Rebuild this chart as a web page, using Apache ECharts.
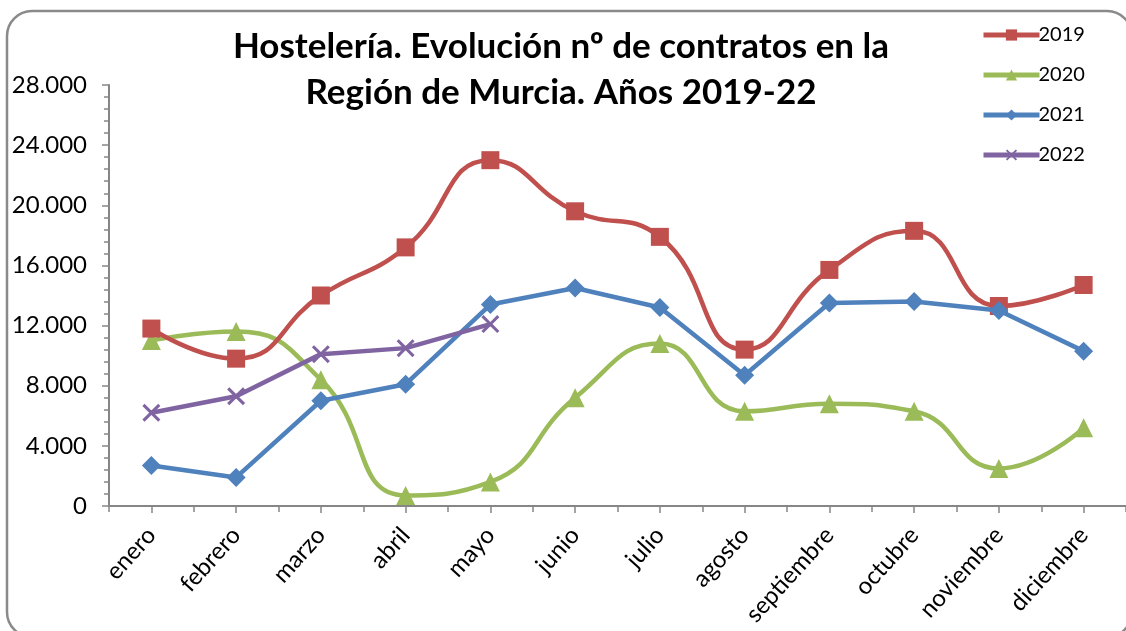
<!DOCTYPE html>
<html>
<head>
<meta charset="utf-8">
<script src="https://cdn.jsdelivr.net/npm/echarts@6/dist/echarts.min.js"></script>
<style>html,body{margin:0;padding:0;background:#fff;}#c{width:1126px;height:631px;}</style>
</head>
<body>
<div id="c"></div>
<script>
var months = ['enero','febrero','marzo','abril','mayo','junio','julio','agosto','septiembre','octubre','noviembre','diciembre'];
var y2019 = [11800, 9800, 14000, 17200, 23000, 19600, 17900, 10400, 15700, 18300, 13300, 14700];
var y2020 = [11000, 11600, 8400, 700, 1600, 7200, 10800, 6300, 6800, 6300, 2500, 5200];
var y2021 = [2700, 1900, 7000, 8100, 13400, 14500, 13200, 8700, 13500, 13600, 13000, 10300];
var y2022 = [6200, 7300, 10100, 10500, 12100];
var seriesNames = ['2019','2020','2021','2022'];
var yTicks = {min: 0, max: 28000, interval: 4000};

var FONT = 'Lato, "Open Sans", sans-serif';
var crossPath = 'path://M0,1.2 L1.2,0 L5,3.8 L8.8,0 L10,1.2 L6.2,5 L10,8.8 L8.8,10 L5,6.2 L1.2,10 L0,8.8 L3.8,5 Z';
var chart = echarts.init(document.getElementById('c'), null, {renderer: 'canvas'});
function fmt(v){ return String(v).replace(/\B(?=(\d{3})+(?!\d))/g, '.'); }
var axisGray = '#868686';
chart.setOption({
  animation: false,
  backgroundColor: '#fff',
  graphic: [{
    type: 'rect', shape: {x: 7, y: 11, width: 1125, height: 626, r: 25},
    style: {fill: 'none', stroke: '#8a8a8a', lineWidth: 2.5}, z: 0
  }],
  title: {
    text: 'Hostelería. Evolución nº de contratos en la\nRegión de Murcia. Años 2019-22',
    left: 556, top: 19, textAlign: 'center',
    textStyle: {fontFamily: FONT, fontWeight: 'bold', fontSize: 35, lineHeight: 46, color: '#000'}
  },
  legend: {
    orient: 'vertical', left: 976, top: 20, itemGap: 20, itemWidth: 56, itemHeight: 14,
    data: seriesNames,
    lineStyle: {width: 5},
    textStyle: {fontFamily: FONT, fontSize: 20, color: '#000', padding: [0,0,0,-6]}
  },
  grid: {left: 109, top: 85, width: 1031, height: 421, containLabel: false},
  xAxis: [{
    type: 'category', data: months, boundaryGap: true, position: 'bottom',
    axisLine: {lineStyle: {color: axisGray, width: 2}},
    axisTick: {show: true, length: 6, lineStyle: {color: axisGray, width: 1.5}},
    axisLabel: {rotate: 48, margin: 25, fontFamily: FONT, fontSize: 24, color: '#000', interval: 0},
    splitLine: {show: false}
  }, {
    type: 'category', data: months, boundaryGap: true, position: 'bottom',
    axisLine: {show: false},
    axisTick: {show: true, alignWithLabel: true, length: 7, lineStyle: {color: axisGray, width: 1.5}},
    axisLabel: {show: false}, splitLine: {show: false}
  }],
  yAxis: {
    type: 'value', min: yTicks.min, max: yTicks.max, interval: yTicks.interval,
    axisLine: {show: true, lineStyle: {color: axisGray, width: 2}},
    axisTick: {show: true, length: 7, lineStyle: {color: axisGray, width: 1.5}},
    minorTick: {show: true, splitNumber: 5, length: 5, lineStyle: {color: axisGray, width: 1.5}},
    axisLabel: {margin: 22, fontFamily: FONT, fontSize: 24, color: '#000', formatter: fmt},
    splitLine: {show: false}
  },
  series: [{
    name: seriesNames[0], type: 'line', data: y2019, smooth: 0.5,
    symbol: 'rect', symbolSize: 18,
    lineStyle: {color: '#C0504D', width: 4.5}, itemStyle: {color: '#C0504D'}, z: 4
  }, {
    name: seriesNames[1], type: 'line', data: y2020, smooth: 0.5,
    symbol: 'triangle', symbolSize: 19,
    lineStyle: {color: '#9BBB59', width: 4.5}, itemStyle: {color: '#9BBB59'}, z: 3
  }, {
    name: seriesNames[2], type: 'line', data: y2021, smooth: false,
    symbol: 'diamond', symbolSize: 19,
    lineStyle: {color: '#4F81BD', width: 4.5}, itemStyle: {color: '#4F81BD'}, z: 5
  }, {
    name: seriesNames[3], type: 'line', data: y2022, smooth: false,
    symbol: crossPath, symbolSize: 18,
    lineStyle: {color: '#8064A2', width: 4.5}, itemStyle: {color: '#8064A2'}, z: 6
  }]
});
</script>
</body>
</html>
